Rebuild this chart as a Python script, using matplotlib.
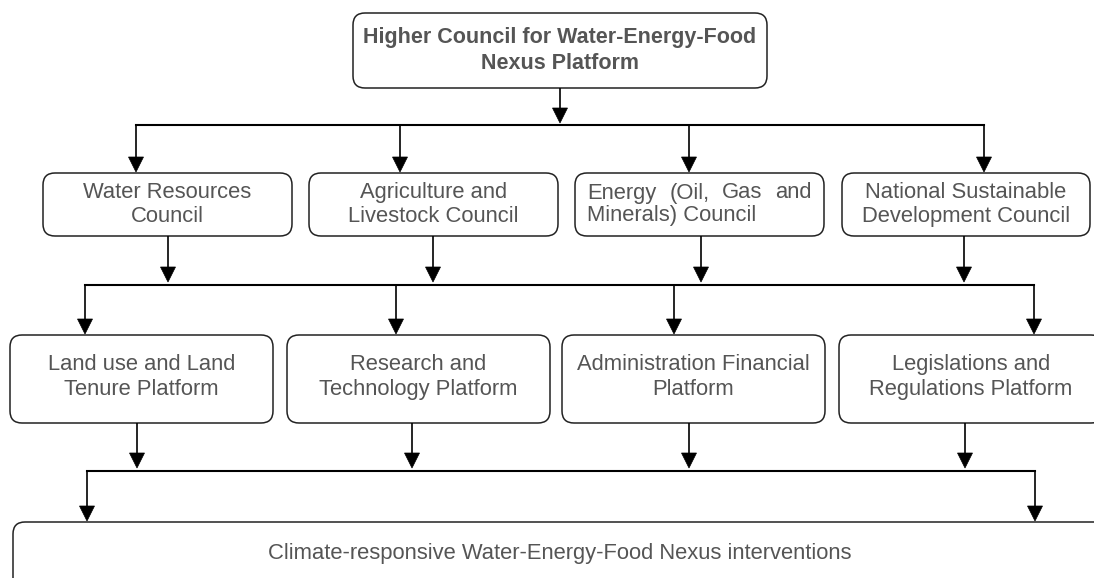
import matplotlib

matplotlib.use("Agg")
import matplotlib.pyplot as plt
from matplotlib.patches import FancyBboxPatch, Polygon

plt.rcParams["font.family"] = ["Liberation Sans", "DejaVu Sans"]

TEXT_COLOR = "#555555"
EDGE_COLOR = "#222222"
FONT_SIZE = 15.8

top_label = "Higher Council for Water-Energy-Food\nNexus Platform"
council_labels = [
    "Water Resources\nCouncil",
    "Agriculture and\nLivestock Council",
    "Energy (Oil, Gas and\nMinerals) Council",
    "National Sustainable\nDevelopment Council",
]
platform_labels = [
    "Land use and Land\nTenure Platform",
    "Research and\nTechnology Platform",
    "Administration Financial\nPlatform",
    "Legislations and\nRegulations Platform",
]
bottom_label = "Climate-responsive Water-Energy-Food Nexus interventions"

# layout in pixel coordinates (y grows downward)
top_box = (353, 13, 767, 88)
council_boxes = [(43, 173, 292, 236), (309, 173, 558, 236), (575, 173, 824, 236), (842, 173, 1090, 236)]
platform_boxes = [(10, 335, 273, 423), (287, 335, 550, 423), (562, 335, 825, 423), (839, 335, 1103, 423)]
bottom_box = (13, 522, 1107, 600)

bar1_y, bar1_drops = 125, [136, 400, 689, 984]
council_out = [168, 433, 701, 964]
bar2_y, bar2_drops = 285, [85, 396, 674, 1034]
platform_out = [137, 412, 689, 965]
bar3_y, bar3_drops = 471, [87, 1035]

fig = plt.figure(figsize=(10.94, 5.78), dpi=100)
ax = fig.add_axes([0, 0, 1, 1])
ax.set_xlim(0, 1094)
ax.set_ylim(578, 0)
ax.axis("off")


def draw_box(box):
    x0, y0, x1, y1 = box
    patch = FancyBboxPatch(
        (x0, y0), x1 - x0, y1 - y0,
        boxstyle="round,pad=0,rounding_size=12",
        facecolor="white", edgecolor=EDGE_COLOR, linewidth=1.1,
    )
    ax.add_patch(patch)


def draw_arrow(x, y0, y1):
    head = 15
    half = 7.5
    ax.plot([x, x], [y0, y1 - head], color="black", linewidth=1.2, solid_capstyle="butt")
    ax.add_patch(Polygon([(x - half, y1 - head), (x + half, y1 - head), (x, y1)],
                         closed=True, facecolor="black", edgecolor="black", linewidth=0.5))


def draw_bar(y, xs):
    ax.plot([min(xs), max(xs)], [y, y], color="black", linewidth=1.5)


def box_text(box, label, dy=0.0, spacing=1.15, size=FONT_SIZE, weight="normal"):
    x0, y0, x1, y1 = box
    ax.text((x0 + x1) / 2, (y0 + y1) / 2 + dy, label, ha="center", va="center",
            fontsize=size, fontweight=weight, color=TEXT_COLOR, linespacing=spacing)


# top council
draw_box(top_box)
box_text(top_box, top_label, spacing=1.3, size=15.5, weight="bold")
draw_arrow((top_box[0] + top_box[2]) / 2, top_box[3], bar1_y - 2)
draw_bar(bar1_y, bar1_drops)
for x in bar1_drops:
    draw_arrow(x, bar1_y, council_boxes[0][1] - 1)

# councils
for i, (box, label) in enumerate(zip(council_boxes, council_labels)):
    draw_box(box)
    if i != 2:
        box_text(box, label)
    draw_arrow(council_out[i], box[3], bar2_y - 3)

# justified first line of the energy box
fig.canvas.draw()
renderer = fig.canvas.get_renderer()
ex0, ey0, ex1, ey1 = council_boxes[2]
first_line, second_line = council_labels[2].split("\n")
words = first_line.split(" ")
line_y1 = (ey0 + ey1) / 2 - 11.5
line_y2 = (ey0 + ey1) / 2 + 11.5
left_x, right_x = ex0 + 12, ex1 - 12
word_artists = [
    ax.text(0, line_y1, w, ha="left", va="center", fontsize=FONT_SIZE, color=TEXT_COLOR)
    for w in words
]
inv = ax.transData.inverted()
widths = []
for t in word_artists:
    bb = t.get_window_extent(renderer)
    widths.append(inv.transform((bb.x1, bb.y0))[0] - inv.transform((bb.x0, bb.y0))[0])
gap = (right_x - left_x - sum(widths)) / (len(words) - 1)
pos = left_x
for t, w in zip(word_artists, widths):
    t.set_x(pos)
    pos += w + gap
ax.text(left_x, line_y2, second_line, ha="left", va="center",
        fontsize=FONT_SIZE, color=TEXT_COLOR)

draw_bar(bar2_y, bar2_drops)
for x in bar2_drops:
    draw_arrow(x, bar2_y, platform_boxes[0][1] - 1)

# platforms
for i, (box, label) in enumerate(zip(platform_boxes, platform_labels)):
    draw_box(box)
    box_text(box, label, dy=-2, spacing=1.25)
    draw_arrow(platform_out[i], box[3], bar3_y - 3)

draw_bar(bar3_y, bar3_drops)
for x in bar3_drops:
    draw_arrow(x, bar3_y, bottom_box[1] - 1)

# interventions
draw_box(bottom_box)
ax.text(560, 553, bottom_label, ha="center", va="center", fontsize=FONT_SIZE, color=TEXT_COLOR)

fig.savefig("out.png", dpi=100)
